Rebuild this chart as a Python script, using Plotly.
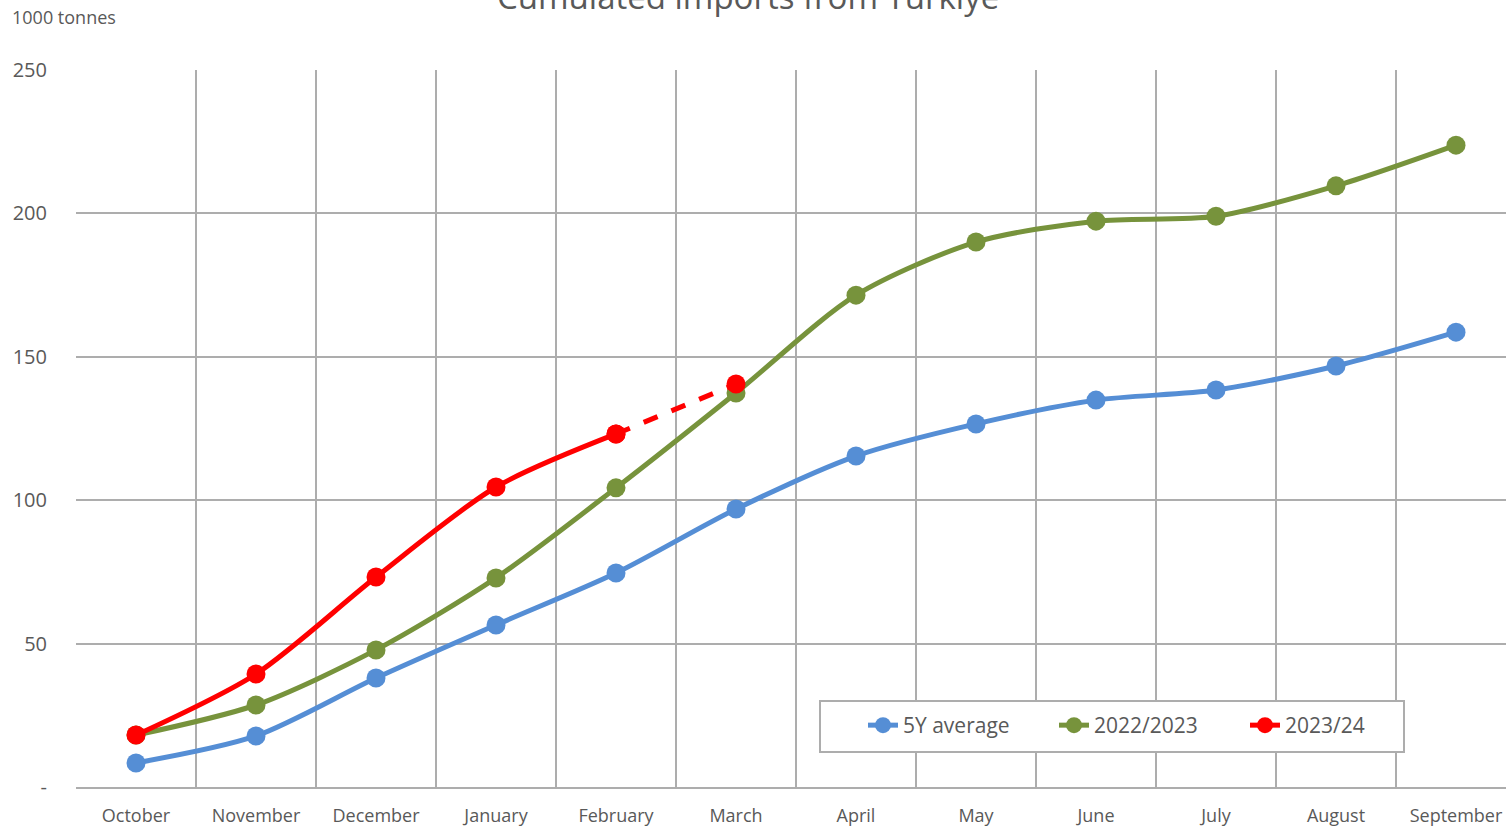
import plotly.graph_objects as go

months = ["October", "November", "December", "January", "February", "March",
          "April", "May", "June", "July", "August", "September"]

avg_5y = [8.4, 17.8, 38.0, 56.5, 74.6, 96.9, 115.4, 126.6, 134.9, 138.4, 146.8, 158.6]
season_2223 = [18.1, 28.6, 47.8, 72.9, 104.3, 137.4, 171.5, 190.0, 197.3, 199.0, 209.6, 223.8]
season_2324 = [18.1, 39.4, 73.2, 104.6, 123.1, 140.5]  # last value provisional

y_ticks = [0, 50, 100, 150, 200, 250]
y_tick_text = ["-", "50", "100", "150", "200", "250"]

BLUE = "#558ED5"
GREEN = "#77933C"
RED = "#FF0000"
GRID = "#ADADAD"
TEXT = "#595959"
FONT = "Open Sans"
LW = 5
MS = 19

PLOT_W = 1430
PLOT_H = 717

x = list(range(len(months)))

fig = go.Figure()

fig.add_trace(go.Scatter(
    x=x, y=avg_5y, name="5Y average", mode="lines+markers",
    line=dict(color=BLUE, width=LW, shape="spline", smoothing=0.8),
    marker=dict(color=BLUE, size=MS),
))
fig.add_trace(go.Scatter(
    x=x, y=season_2223, name="2022/2023", mode="lines+markers",
    line=dict(color=GREEN, width=LW, shape="spline", smoothing=0.8),
    marker=dict(color=GREEN, size=MS),
))
# provisional last month drawn dashed
fig.add_trace(go.Scatter(
    x=x[4:6], y=season_2324[4:6], mode="lines+markers", showlegend=False,
    line=dict(color=RED, width=LW, dash="dash"),
    marker=dict(color=RED, size=MS),
))
fig.add_trace(go.Scatter(
    x=x[:5], y=season_2324[:5], name="2023/24", mode="lines+markers",
    line=dict(color=RED, width=LW, shape="spline", smoothing=0.8),
    marker=dict(color=RED, size=MS),
))

# framed legend panel, white over the grid
fig.add_shape(
    type="rect", xref="paper", yref="paper", layer="above",
    x0=(820 - 76) / PLOT_W, x1=(1404 - 76) / PLOT_W,
    y0=(787 - 752) / PLOT_H, y1=(787 - 701) / PLOT_H,
    line=dict(color=GRID, width=2), fillcolor="white",
)

fig.update_layout(
    width=1506, height=828,
    margin=dict(l=76, r=0, t=70, b=41, autoexpand=False),
    paper_bgcolor="white", plot_bgcolor="white",
    font=dict(family=FONT, color=TEXT, size=18),
    showlegend=True,
    legend=dict(
        orientation="h", x=(863 - 76) / PLOT_W, y=(787 - 705) / PLOT_H,
        xanchor="left", yanchor="top",
        borderwidth=0, bgcolor="rgba(0,0,0,0)",
        font=dict(size=21, color=TEXT), entrywidth=146, traceorder="normal",
    ),
    xaxis=dict(
        range=[-0.5, 11.5 - 10 / 120], automargin=False,
        tickvals=x, ticktext=months, showgrid=False, zeroline=False,
        showline=True, linecolor=GRID, linewidth=2,
        ticks="", ticklabelstandoff=11,
        minor=dict(tickvals=[i - 0.5 for i in range(13)], showgrid=True,
                   gridcolor=GRID, gridwidth=2, ticks=""),
        tickfont=dict(size=18, color=TEXT),
    ),
    yaxis=dict(
        range=[0, 250], tickvals=y_ticks, ticktext=y_tick_text, automargin=False,
        showgrid=True, gridcolor=GRID, gridwidth=2, zeroline=False,
        showline=False, ticks="", ticklabelstandoff=28,
        tickfont=dict(size=20, color=TEXT),
    ),
    annotations=[
        dict(text="1000 tonnes", xref="paper", yref="paper",
             x=-66 / PLOT_W, y=1 + 53 / PLOT_H, xanchor="left", yanchor="middle",
             showarrow=False, font=dict(size=18, color=TEXT)),
        dict(text="Cumulated imports from Türkiye", xref="paper", yref="paper",
             x=(748 - 76) / PLOT_W, y=1 + 49 / PLOT_H, xanchor="center", yanchor="bottom",
             showarrow=False, font=dict(size=33, color=TEXT)),
    ],
)

fig.write_html("out.html")
